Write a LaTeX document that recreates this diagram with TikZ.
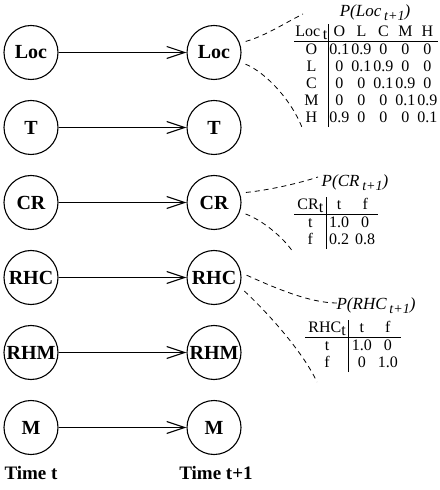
\documentclass[tikz,border=0pt]{standalone}
\usepackage{fontspec}
\setmainfont{Liberation Serif}
\usetikzlibrary{arrows.meta}
\newcommand{\tsub}[1]{\raisebox{-0.5ex}{#1}}

\begin{document}
\begin{tikzpicture}[x=0.5pt,y=-0.5pt,
  varnode/.style={circle,draw,line width=0.55pt,minimum size=27pt,inner sep=0pt,
    font=\fontsize{10}{12}\selectfont\bfseries},
  trans/.style={-{Straight Barb[length=9pt,width=6pt]},line width=0.55pt},
  link/.style={dash pattern=on 2.5pt off 2pt,line width=0.4pt,shorten <=3pt},
  cpt/.style={inner sep=0pt,font=\fontsize{8}{8.5}\selectfont},
  cpttitle/.style={inner sep=0pt,font=\fontsize{8.5}{10}\selectfont\itshape},
  timelabel/.style={inner sep=0pt,font=\fontsize{9.5}{11}\selectfont\bfseries}]

  \useasboundingbox (0,0) rectangle (439,490);

  % variables at t and t+1
  \foreach \v/\i in {Loc/0,T/1,CR/2,RHC/3,RHM/4,M/5} {
    \node[varnode] (\v0) at (31,{52.5+75*\i}) {\v};
    \node[varnode] (\v1) at (214,{52.5+75*\i}) {\v};
    \draw[trans] (\v0) -- (\v1);
  }

  \node[timelabel] (tnow) at (31,473) {Time t};
  \node[timelabel] (tnext) at (216,473) {Time t+1};

  % location table
  \node[cpttitle] (loctitle) at (375,13)
    {P(Loc\,\tsub{\fontsize{7}{8}\selectfont t+1})};
  \node[cpt,anchor=north west] (loctab) at (294,24) {\setlength{\tabcolsep}{0.5pt}%
    \begin{tabular}{c|ccccc}
      Loc\,\tsub{t} & O & L & C & M & H\\ \hline
      O & 0.1 & 0.9 & 0 & 0 & 0\\
      L & 0 & 0.1 & 0.9 & 0 & 0\\
      C & 0 & 0 & 0.1 & 0.9 & 0\\
      M & 0 & 0 & 0 & 0.1 & 0.9\\
      H & 0.9 & 0 & 0 & 0 & 0.1
    \end{tabular}};
  \coordinate (loctop) at (303,14);
  \coordinate (locbot) at (303,130);
  \draw[link] (Loc1.20) .. controls (265,36) and (285,23) .. (loctop);
  \draw[link] (Loc1.-20) .. controls (265,72) and (292,100) .. (locbot);

  % CR table
  \node[cpttitle] (crtitle) at (355,183)
    {P(CR\,\tsub{\fontsize{7}{8}\selectfont t+1})};
  \node[cpt,anchor=north west] (crtab) at (294,197) {\setlength{\tabcolsep}{1.5pt}%
    \begin{tabular}{c|cc}
      CR\tsub{t} & t & f\\ \hline
      t & 1.0 & 0\\
      f & 0.2 & 0.8
    \end{tabular}};
  \coordinate (crtop) at (318,177);
  \coordinate (crbot) at (293,252);
  \draw[link] (CR1.20) .. controls (270,190) and (300,183) .. (crtop);
  \draw[link] (CR1.-20) .. controls (262,220) and (283,237) .. (crbot);

  % RHC table
  \node[cpttitle] (rhctitle) at (376,306)
    {P(RHC\,\tsub{\fontsize{7}{8}\selectfont t+1})};
  \node[cpt,anchor=north west] (rhctab) at (305,320) {\setlength{\tabcolsep}{1.5pt}%
    \begin{tabular}{c|cc}
      RHC\tsub{t} & t & f\\ \hline
      t & 1.0 & 0\\
      f & 0 & 1.0
    \end{tabular}};
  \coordinate (rhctop) at (337,303);
  \coordinate (rhcbot) at (317,382);
  \draw[link] (RHC1.10) .. controls (275,288) and (310,303) .. (rhctop);
  \draw[link] (RHC1.-20) .. controls (268,313) and (303,352) .. (rhcbot);

\end{tikzpicture}
\end{document}
